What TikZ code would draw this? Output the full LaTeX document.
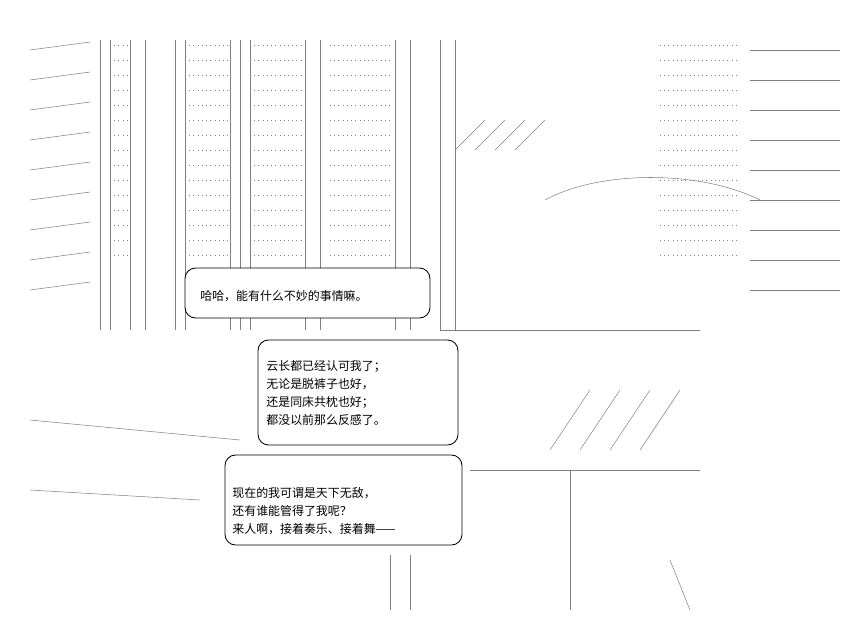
\documentclass[tikz,border=0pt]{standalone}
\usepackage{fontspec}
\newfontfamily\cjk{Noto Sans CJK SC}
\usetikzlibrary{positioning}
\tikzset{
  bubble/.style={draw, fill=white, rounded corners=6pt, line width=0.5pt},
  say/.style={font=\cjk\fontsize{6.8}{10.2}\selectfont, align=left, anchor=north west, inner sep=0pt},
  art/.style={line width=0.3pt, gray},
  dots/.style={line width=0.4pt, gray, dotted}
}
\begin{document}
\begin{tikzpicture}[x=0.02cm, y=-0.02cm]
  \useasboundingbox (0,0) rectangle (851,622);
  % Background art, rough
  \foreach \x in {100,110,130,145,175,185,230,240,250,305,320,395,410,440,455} {
    \draw[art] (\x,40) -- (\x,330);
  }
  \foreach \y in {45,60,75,90,105,120,135,150,165,180,195,210,225,240,255} {
    \draw[dots] (110,\y) -- (130,\y);
    \draw[dots] (185,\y) -- (230,\y);
    \draw[dots] (250,\y) -- (305,\y);
    \draw[dots] (330,\y) -- (390,\y);
    \draw[dots] (660,\y) -- (740,\y);
  }
  \foreach \y in {50,80,110,140,170,200,230,260,290} {
    \draw[art] (30,\y) -- (90,\y-8);
    \draw[art] (750,\y) -- (840,\y);
  }
  \foreach \x in {455,475,495,515} {
    \draw[art] (\x,150) -- (\x+30,120);
  }
  \draw[art] (545,200) .. controls (600,170) and (700,170) .. (760,200);
  \draw[art] (440,330) -- (700,330);
  \draw[art] (30,420) -- (240,440);
  \draw[art] (30,490) -- (200,500);
  \draw[art] (470,470) -- (700,470);
  \draw[art] (390,555) -- (390,610);
  \draw[art] (410,555) -- (410,610);
  \draw[art] (570,470) -- (570,610);
  \draw[art] (670,560) -- (690,610);
  \foreach \x in {590,620,650,680} {
    \draw[art] (\x,390) -- (\x-40,450);
  }
  % Bubbles
  \draw[bubble] (185,268) rectangle (430,318);
  \node (t1) [say] at (200,290) {哈哈，能有什么不妙的事情嘛。};
  \draw[bubble] (258,340) rectangle (458,445);
  \node (t2) [say] at (266,360) {云长都已经认可我了；\\无论是脱裤子也好，\\还是同床共枕也好；\\都没以前那么反感了。};
  \draw[bubble] (225,455) rectangle (462,545);
  \node (t3) [say] at (232,487) {现在的我可谓是天下无敌，\\还有谁能管得了我呢？\\来人啊，接着奏乐、接着舞——};
\end{tikzpicture}
\end{document}
